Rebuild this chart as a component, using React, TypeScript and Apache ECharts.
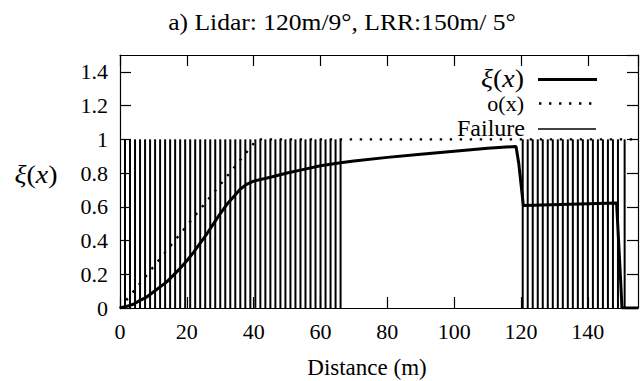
import React, { useEffect, useRef } from "react";
import * as echarts from "echarts";

// ---- data ----
const titleText = "a) Lidar: 120m/9°, LRR:150m/ 5°";
const xAxisTitle = "Distance (m)";
const xTicks = { min: 0, max: 155, interval: 20 };
const yTicks = { min: 0, max: 1.5, interval: 0.2 };

// ξ(x)
const xiX = [0, 2, 4, 6, 8, 10, 12, 14, 16, 18, 20, 22, 24, 26, 28, 30, 32, 34, 36, 38, 40, 45, 50, 55, 60, 66, 70, 80, 90, 100, 110, 118.5, 119.3, 120.7, 148.6, 149.8, 150.2, 155];
const xiY = [0, 0.01, 0.022, 0.045, 0.065, 0.095, 0.125, 0.155, 0.195, 0.235, 0.28, 0.33, 0.385, 0.44, 0.5, 0.56, 0.615, 0.66, 0.705, 0.735, 0.752, 0.775, 0.8, 0.822, 0.843, 0.861, 0.872, 0.893, 0.912, 0.93, 0.947, 0.958, 0.86, 0.607, 0.622, 0.165, 0, 0];

// o(x)
const oX = [0, 41, 155];
const oY = [0, 1, 1];

// Failure (impulses of height 1)
const failureX = [
  0, 1.5, 3, 4.5, 6, 7.5, 9, 10.5, 12, 13.5, 15, 16.5, 18, 19.5, 21, 22.5, 24, 25.5, 27, 28.5,
  30, 31.5, 33, 34.5, 36, 37.5, 39, 40.5, 42, 43.5, 45, 46.5, 48, 49.5, 51, 52.5, 54, 55.5, 57, 58.5,
  60, 61.5, 63, 64.5, 66,
  120.5, 122, 123.5, 125, 126.5, 128, 129.5, 131, 132.5, 134, 135.5, 137, 138.5, 140, 141.5, 143,
  144.5, 146, 147.5, 149, 151,
];
const failureY = failureX.map(() => 1);

const FONT = "Liberation Serif";

export default function App() {
  const ref = useRef<HTMLDivElement>(null);

  useEffect(() => {
    if (!ref.current) return;
    const chart = echarts.init(ref.current, null, { renderer: "svg" });

    const axisLine = { show: true, onZero: false, lineStyle: { color: "#000", width: 1.2 } };
    const axisTick = { show: true, inside: true, length: 11, lineStyle: { color: "#000", width: 1.2 } };
    const label = { fontFamily: FONT, fontSize: 22, color: "#000" };
    const xiRich = {
      i: { fontFamily: FONT, fontSize: 25, fontStyle: "italic", fill: "#000" },
      r: { fontFamily: FONT, fontSize: 25, fill: "#000" },
    };

    const option: any = {
      animation: false,
      backgroundColor: "#fff",
      textStyle: { fontFamily: FONT },
      grid: { left: 120, right: 6, top: 55, bottom: 73, containLabel: false },
      xAxis: [
        {
          type: "value", ...xTicks, position: "bottom",
          axisLine, axisTick,
          axisLabel: { ...label, margin: 12, showMaxLabel: false },
          splitLine: { show: false },
        },
        {
          type: "value", ...xTicks, position: "top",
          axisLine, axisTick,
          axisLabel: { show: false },
          splitLine: { show: false },
        },
      ],
      yAxis: [
        {
          type: "value", ...yTicks, position: "left",
          axisLine, axisTick,
          axisLabel: { ...label, margin: 12, showMaxLabel: false },
          splitLine: { show: false },
        },
        {
          type: "value", ...yTicks, position: "right",
          axisLine, axisTick,
          axisLabel: { show: false },
          splitLine: { show: false },
        },
      ],
      series: [
        {
          name: "Failure",
          type: "custom",
          xAxisIndex: 0,
          yAxisIndex: 0,
          clip: true,
          data: failureX.map((x, i) => [x, failureY[i]]),
          renderItem: (params: any, api: any) => {
            const x = api.value(0);
            const p0 = api.coord([x, 0]);
            const p1 = api.coord([x, api.value(1)]);
            return {
              type: "line",
              shape: { x1: p0[0], y1: p0[1], x2: p1[0], y2: p1[1] },
              style: { stroke: "#000", lineWidth: 2 },
            };
          },
        },
        {
          name: "o(x)",
          type: "line",
          xAxisIndex: 0,
          yAxisIndex: 0,
          symbol: "none",
          data: oX.map((x, i) => [x, oY[i]]),
          lineStyle: { color: "#000", width: 2.4, type: [2.4, 7.6] },
        },
        {
          name: "ξ(x)",
          type: "line",
          xAxisIndex: 0,
          yAxisIndex: 0,
          symbol: "none",
          data: xiX.map((x, i) => [x, xiY[i]]),
          lineStyle: { color: "#000", width: 3 },
        },
      ],
      graphic: [
        {
          type: "text", x: 342, y: 22, scaleX: 1.065,
          style: { text: titleText, fontFamily: FONT, fontSize: 24, fill: "#000", align: "center", verticalAlign: "middle" },
        },
        {
          type: "text", x: 367, y: 367,
          style: { text: xAxisTitle, fontFamily: FONT, fontSize: 23, fill: "#000", align: "center", verticalAlign: "middle" },
        },
        {
          type: "text", x: 36, y: 175, scaleX: 1.12,
          style: { text: "{i|ξ}{r|(}{i|x}{r|)}", align: "center", verticalAlign: "middle", rich: xiRich },
        },
        // legend
        {
          type: "text", x: 524, y: 79, scaleX: 1.12,
          style: { text: "{i|ξ}{r|(}{i|x}{r|)}", align: "right", verticalAlign: "middle", rich: xiRich },
        },
        { type: "line", shape: { x1: 538, y1: 79.5, x2: 597, y2: 79.5 }, style: { stroke: "#000", lineWidth: 3 } },
        {
          type: "text", x: 524, y: 103,
          style: { text: "o(x)", fontFamily: FONT, fontSize: 22, fill: "#000", align: "right", verticalAlign: "middle" },
        },
        { type: "line", shape: { x1: 539, y1: 103.5, x2: 598, y2: 103.5 }, style: { stroke: "#000", lineWidth: 2.4, lineDash: [2.4, 7.6] } },
        {
          type: "text", x: 525, y: 128,
          style: { text: "Failure", fontFamily: FONT, fontSize: 24, fill: "#000", align: "right", verticalAlign: "middle" },
        },
        { type: "line", shape: { x1: 538, y1: 129, x2: 596, y2: 129 }, style: { stroke: "#000", lineWidth: 1.7 } },
      ],
    };

    chart.setOption(option);
    return () => chart.dispose();
  }, []);

  return (
    <div
      ref={ref}
      style={{ position: "absolute", left: 0, top: 0, width: 644, height: 381, background: "#fff" }}
    />
  );
}
